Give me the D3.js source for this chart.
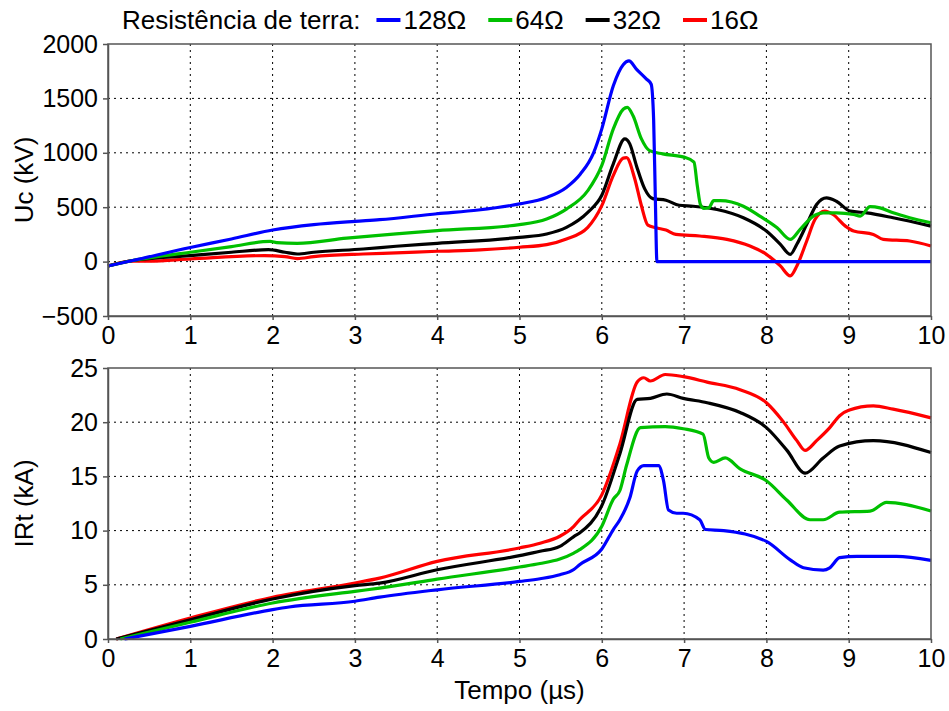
<!DOCTYPE html>
<html>
<head>
<meta charset="utf-8">
<script src="https://cdn.jsdelivr.net/npm/d3@7"></script>
<style>
body { margin: 0; background: #fff; }
text { font-family: Arial, "Liberation Sans", sans-serif; fill: #000; }
</style>
</head>
<body>
<div id="chart"></div>
<script>
// series names / colours (legend order)
const resistencias = ["128\u03A9", "64\u03A9", "32\u03A9", "16\u03A9"];
const cores = ["#0000ff", "#00c000", "#000000", "#ff0000"];

const xTicks = [0, 1, 2, 3, 4, 5, 6, 7, 8, 9, 10];
const ucTicks = [-500, 0, 500, 1000, 1500, 2000];
const irTicks = [0, 5, 10, 15, 20, 25];

// Uc (kV) vs tempo (us)
const uc128 = [[0,-40],[0.3,10],[1,130],[1.5,208],[2,290],[2.5,340],[3,370],[3.3,385],[4,440],[4.5,474],[5,530],[5.33,590],[5.57,682],[5.74,805],[5.9,1000],[6.0,1220],[6.14,1616],[6.26,1810],[6.33,1845],[6.42,1770],[6.54,1680],[6.6,1630],[6.63,1300],[6.65,600],[6.67,0],[10,0]];
const uc64 = [[0,-40],[0.3,10],[1,86],[1.5,138],[1.97,185],[2.05,175],[2.3,168],[2.9,215],[3.5,255],[4,285],[5,340],[5.33,392],[5.57,483],[5.83,652],[6.0,884],[6.14,1220],[6.26,1400],[6.31,1418],[6.38,1340],[6.48,1130],[6.58,1020],[6.74,990],[7.0,960],[7.12,915],[7.16,700],[7.2,520],[7.24,490],[7.3,495],[7.36,560],[7.44,560],[7.72,509],[7.92,418],[8.13,311],[8.29,204],[8.41,296],[8.57,418],[8.69,448],[8.85,448],[9.06,433],[9.14,418],[9.26,505],[9.38,494],[9.54,448],[9.74,403],[10,357]];
const uc32 = [[0,-40],[0.3,10],[1,55],[1.5,86],[1.95,110],[2.15,86],[2.3,70],[2.5,86],[3.1,116],[3.5,141],[4,168],[5,223],[5.33,254],[5.57,315],[5.83,453],[6.0,610],[6.14,899],[6.28,1128],[6.34,1082],[6.42,884],[6.52,671],[6.62,579],[6.78,564],[6.94,518],[7.11,509],[7.4,479],[7.72,403],[8.0,281],[8.17,159],[8.29,67],[8.37,159],[8.49,342],[8.61,525],[8.73,586],[8.85,555],[9.02,464],[9.22,448],[9.54,403],[10,326]];
const uc16 = [[0,-40],[0.3,5],[0.5,5],[1,24],[1.9,55],[2.15,46],[2.3,28],[2.5,46],[3.1,70],[3.5,80],[4,95],[4.52,107],[5,132],[5.33,156],[5.57,208],[5.83,315],[6.0,514],[6.14,793],[6.26,951],[6.3,955],[6.4,762],[6.48,518],[6.56,335],[6.66,311],[6.78,290],[6.9,250],[7.19,235],[7.52,204],[7.8,143],[8.0,67],[8.17,-40],[8.29,-131],[8.37,-40],[8.49,189],[8.59,387],[8.71,464],[8.81,433],[8.96,326],[9.06,281],[9.3,250],[9.42,204],[9.74,189],[10,143]];

// IRt (kA) vs tempo (us)
const ir128 = [[0.2,0],[1,1.17],[2,2.71],[2.2,2.95],[3,3.48],[3.3,3.86],[4,4.54],[5,5.31],[5.25,5.56],[5.49,5.93],[5.66,6.41],[5.73,6.85],[6.0,8.3],[6.14,10.1],[6.22,11.0],[6.34,13.0],[6.43,15.5],[6.51,16.0],[6.69,16.0],[6.75,14.6],[6.81,11.9],[6.91,11.6],[6.99,11.6],[7.19,11.0],[7.26,10.1],[7.48,10.0],[8.0,9.0],[8.29,7.3],[8.45,6.57],[8.69,6.35],[8.77,6.57],[8.89,7.5],[9.1,7.63],[9.58,7.63],[10,7.26]];
const ir64 = [[0.15,0],[1,1.54],[2,3.32],[3,4.4],[3.3,4.69],[4,5.52],[5,6.64],[5.25,6.96],[5.49,7.38],[5.66,7.93],[5.73,8.24],[6.0,10.4],[6.14,12.9],[6.22,13.7],[6.3,16.0],[6.47,19.5],[6.77,19.6],[6.99,19.4],[7.23,18.9],[7.3,16.7],[7.36,16.3],[7.5,16.7],[7.68,15.7],[8.0,14.6],[8.25,12.8],[8.53,11.0],[8.69,11.0],[8.89,11.7],[9.26,11.8],[9.46,12.6],[9.7,12.4],[10,11.8]];
const ir32 = [[0.1,0],[1,1.78],[2,3.69],[3,4.92],[3.3,5.15],[4,6.39],[5,7.69],[5.25,8.09],[5.49,8.55],[5.66,9.45],[5.73,9.78],[6.0,12.3],[6.22,17.1],[6.43,22.1],[6.59,22.2],[6.79,22.6],[6.99,22.2],[7.28,21.8],[7.68,20.9],[8.0,19.5],[8.25,17.4],[8.47,15.3],[8.69,16.7],[8.89,17.8],[9.3,18.3],[10,17.2]];
const ir16 = [[0.1,0],[1,1.94],[2,3.85],[3,5.17],[3.3,5.62],[4,7.16],[5,8.4],[5.25,8.84],[5.49,9.48],[5.66,10.4],[5.73,11.0],[6.0,13.3],[6.22,18.0],[6.43,23.7],[6.51,24.1],[6.59,23.8],[6.77,24.4],[6.99,24.2],[7.28,23.7],[7.68,23.0],[8.0,21.8],[8.2,20.1],[8.37,18.3],[8.47,17.4],[8.61,18.3],[8.77,19.5],[8.89,20.6],[9.0,21.1],[9.3,21.5],[9.54,21.2],[10,20.4]];

const W = 949, H = 711;
const left = 108, right = 931;
var svg, x_scale;

document.addEventListener('DOMContentLoaded', function () {
  svg = d3.select("#chart").append("svg")
    .attr("width", W).attr("height", H);
  svg.append("rect").attr("width", W).attr("height", H).attr("fill", "#fff");

  x_scale = d3.scaleLinear().domain([0, 10]).range([left, right]);

  const yUc = d3.scaleLinear().domain([-500, 2000]).range([316, 44]);
  const yIr = d3.scaleLinear().domain([0, 25]).range([639, 368]);

  drawPanel(yUc, ucTicks, [uc128, uc64, uc32, uc16], "Uc (kV)");
  drawPanel(yIr, irTicks, [ir128, ir64, ir32, ir16], "IRt (kA)");

  svg.append("text")
    .attr("x", (left + right) / 2).attr("y", 699)
    .attr("text-anchor", "middle")
    .style("font-size", "26px")
    .text("Tempo (\u00B5s)");

  drawLegend();
});

function drawPanel(y, ticks, series, title) {
  const top = y.range()[1], bottom = y.range()[0];
  const g = svg.append("g");

  // dotted grid
  g.selectAll(".vg").data(xTicks.slice(1, -1)).join("line")
    .attr("x1", d => x_scale(d)).attr("x2", d => x_scale(d))
    .attr("y1", top).attr("y2", bottom)
    .attr("stroke", "#000").attr("stroke-dasharray", "2,4");
  g.selectAll(".hg").data(ticks.slice(1, -1)).join("line")
    .attr("x1", left).attr("x2", right)
    .attr("y1", d => y(d)).attr("y2", d => y(d))
    .attr("stroke", "#000").attr("stroke-dasharray", "2,4");

  // curves
  const line = d3.line().curve(d3.curveMonotoneX)
    .x(d => x_scale(d[0])).y(d => y(d[1]));
  const order = [3, 2, 1, 0];
  order.forEach(i => {
    g.append("path").datum(series[i])
      .attr("d", line)
      .attr("fill", "none")
      .attr("stroke", cores[i])
      .attr("stroke-width", 3.2)
      .attr("stroke-linejoin", "round");
  });

  // frame
  g.append("rect")
    .attr("x", left).attr("y", top)
    .attr("width", right - left).attr("height", bottom - top)
    .attr("fill", "none").attr("stroke", "#555").attr("stroke-width", 1.5);

  const ax = g.append("g").attr("transform", `translate(${left},0)`)
    .call(d3.axisLeft(y).tickValues(ticks).tickFormat(d3.format("d"))
      .tickSize(5).tickSizeOuter(0).tickPadding(5));
  const bx = g.append("g").attr("transform", `translate(0,${bottom})`)
    .call(d3.axisBottom(x_scale).tickValues(xTicks).tickFormat(d3.format("d"))
      .tickSize(4).tickSizeOuter(0).tickPadding(6));
  [ax, bx].forEach(a => {
    a.select(".domain").attr("stroke", "#555").attr("stroke-width", 1.5);
    a.selectAll(".tick line").attr("stroke", "#555").attr("stroke-width", 1.5);
    a.selectAll("text").style("font-size", "25px").attr("fill", "#000")
      .style("font-family", "Arial, 'Liberation Sans', sans-serif");
  });

  svg.append("text")
    .attr("transform", `translate(33,${(top + bottom) / 2}) rotate(-90)`)
    .attr("text-anchor", "middle")
    .style("font-size", "26px")
    .text(title);
}

function drawLegend() {
  const lg = svg.append("g").style("font-size", "26px");
  const baseY = 29;
  let xpos = 122;
  const t = lg.append("text").attr("x", xpos).attr("y", baseY).text("Resist\u00EAncia de terra:");
  xpos += t.node().getComputedTextLength() + 16;
  resistencias.forEach((r, i) => {
    lg.append("line")
      .attr("x1", xpos).attr("x2", xpos + 24)
      .attr("y1", baseY - 9).attr("y2", baseY - 9)
      .attr("stroke", cores[i]).attr("stroke-width", 4);
    xpos += 27;
    const lt = lg.append("text").attr("x", xpos).attr("y", baseY).text(r);
    xpos += lt.node().getComputedTextLength() + 22;
  });
}
</script>
</body>
</html>
